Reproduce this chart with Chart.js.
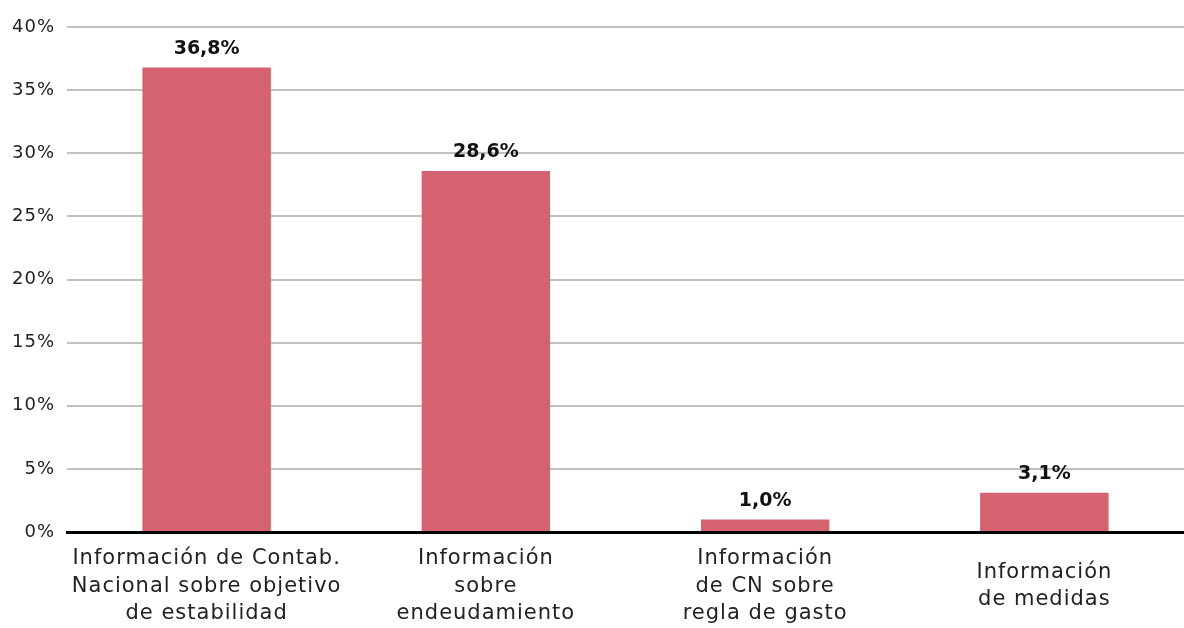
<!DOCTYPE html>
<html>
<head>
<meta charset="utf-8">
<script src="https://cdn.jsdelivr.net/npm/chart.js@4/dist/chart.umd.min.js"></script>
<style>
  html, body { margin: 0; padding: 0; background: #fff; }
  #wrap { width: 1184px; height: 628px; }
</style>
</head>
<body>
<div id="wrap"><canvas id="chart"></canvas></div>
<script>
const categories = [
    ["Información de Contab.", "Nacional sobre objetivo", "de estabilidad"],
    ["Información", "sobre", "endeudamiento"],
    ["Información", "de CN sobre", "regla de gasto"],
    ["Información", "de medidas"]
];
const values = [36.8, 28.6, 1.0, 3.1];
const yTicks = [0, 5, 10, 15, 20, 25, 30, 35, 40];

const FONT = "'DejaVu Sans', sans-serif";
const fmt = v => v.toFixed(1).replace('.', ',') + '%';

// wider letters, closer to the geometric font of the original
const spacing = {
    id: 'spacing',
    beforeLayout(chart) { chart.ctx.letterSpacing = '1px'; },
    beforeDraw(chart) { chart.ctx.letterSpacing = '1px'; }
};

// draws the value above every bar
const barLabels = {
    id: 'barLabels',
    afterDatasetsDraw(chart) {
        const ctx = chart.ctx;
        const meta = chart.getDatasetMeta(0);
        ctx.save();
        ctx.letterSpacing = '0px';
        ctx.font = "bold 19px " + FONT;
        ctx.fillStyle = '#111';
        ctx.textAlign = 'center';
        ctx.textBaseline = 'bottom';
        meta.data.forEach((bar, i) => {
            ctx.fillText(fmt(values[i]), bar.x, bar.y - 9);
        });
        ctx.restore();
    }
};

new Chart(document.getElementById('chart').getContext('2d'), {
    type: 'bar',
    data: {
        labels: categories,
        datasets: [{
            data: values,
            backgroundColor: '#d5636f',
            barPercentage: 0.46,
            categoryPercentage: 1
        }]
    },
    options: {
        responsive: true,
        maintainAspectRatio: false,
        animation: false,
        layout: { padding: { top: 27, right: 0, left: 0, bottom: 0 } },
        plugins: { legend: { display: false }, tooltip: { enabled: false } },
        scales: {
            x: {
                grid: { display: false },
                border: { display: true, color: '#000', width: 3 },
                afterFit: axis => { axis.height = 96; },
                ticks: {
                    color: '#222',
                    font: { family: FONT, size: 21, lineHeight: 1.3 },
                    padding: 19,
                    maxRotation: 0,
                    autoSkip: false,
                    crossAlign: 'center'
                }
            },
            y: {
                min: 0,
                max: 40,
                afterBuildTicks: axis => { axis.ticks = yTicks.map(v => ({ value: v })); },
                grid: { color: '#c0c0c0', lineWidth: 2, drawTicks: false },
                border: { display: false },
                ticks: {
                    color: '#222',
                    font: { family: FONT, size: 18 },
                    padding: 12,
                    callback: v => v + '%'
                }
            }
        }
    },
    plugins: [spacing, barLabels]
});
</script>
</body>
</html>
